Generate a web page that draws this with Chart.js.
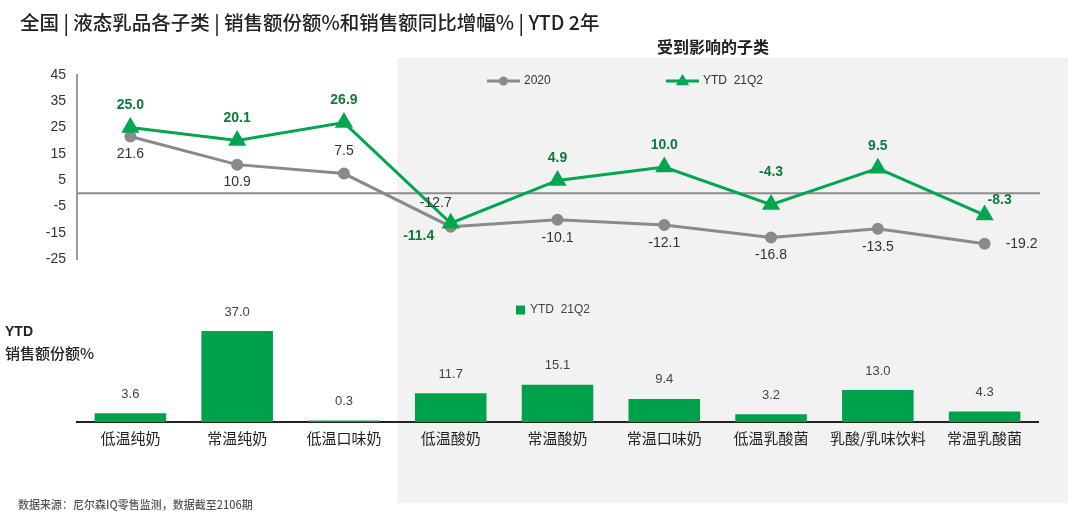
<!DOCTYPE html>
<html><head><meta charset="utf-8">
<script src="https://cdn.jsdelivr.net/npm/chart.js@4.4.1/dist/chart.umd.min.js"></script>
<style>
html,body{margin:0;padding:0;background:#fff;width:1080px;height:516px;overflow:hidden;}
#wrap{position:relative;width:1080px;height:516px;}
canvas{position:absolute;left:0;}
.t{position:absolute;white-space:nowrap;font-family:"Noto Sans CJK SC","Noto Sans",sans-serif;z-index:2;}
</style></head><body>
<div id="wrap">
<canvas id="c1" width="1080" height="290" style="top:0"></canvas>
<canvas id="c2" width="1080" height="226" style="top:290px"></canvas>
<div class="t" style="left:20px;top:12px;font-size:19.5px;line-height:20px;font-weight:500;color:#222">全国 | 液态乳品各子类 | 销售额份额%和销售额同比增幅% | YTD 2年</div>
<div class="t" style="left:657px;top:37px;font-size:16px;line-height:18px;font-weight:600;color:#222">受到影响的子类</div>
<div class="t" style="left:5px;top:323px;font-size:14px;line-height:16px;font-weight:700;color:#222;font-family:'Liberation Sans',Arial,sans-serif">YTD</div>
<div class="t" style="left:5px;top:344px;font-size:15px;line-height:17px;font-weight:500;color:#222">销售额份额%</div>
<div class="t" style="left:18px;top:498px;font-size:11px;line-height:13px;font-weight:500;color:#555">数据来源：尼尔森IQ零售监测，数据截至2106期</div>
</div>
<script>
const categories = ['低温纯奶','常温纯奶','低温口味奶','低温酸奶','常温酸奶','常温口味奶','低温乳酸菌','乳酸/乳味饮料','常温乳酸菌'];
const growth2020 = [21.6, 10.9, 7.5, -12.7, -10.1, -12.1, -16.8, -13.5, -19.2];
const growthYTD21Q2 = [25.0, 20.1, 26.9, -11.4, 4.9, 10.0, -4.3, 9.5, -8.3];
const shareYTD21Q2 = [3.6, 37.0, 0.3, 11.7, 15.1, 9.4, 3.2, 13.0, 4.3];
const yTicksMin = -25, yTicksMax = 45, yTickStep = 10;

const GREEN = '#00A650', GRAY = '#8A8A8A', BAR = '#00A14B';
const SANS = "'Liberation Sans', Arial, sans-serif";

const shade = {
  id: 'shade',
  beforeDraw(chart, args, o) {
    const x = chart.scales.x;
    const left = (x.getPixelForValue(o.from) + x.getPixelForValue(o.from + 1)) / 2;
    const right = chart.chartArea.right + o.extra;
    const ctx = chart.ctx;
    ctx.save();
    ctx.fillStyle = '#F2F2F2';
    ctx.fillRect(left, o.top, right - left, o.bottom - o.top);
    ctx.restore();
  }
};

const zeroLine = {
  id: 'zeroLine',
  beforeDatasetsDraw(chart) {
    const y = chart.scales.y, a = chart.chartArea, ctx = chart.ctx;
    const py = y.getPixelForValue(0);
    ctx.save();
    ctx.strokeStyle = '#8C8C8C';
    ctx.lineWidth = 2;
    ctx.beginPath();
    ctx.moveTo(a.left, py);
    ctx.lineTo(a.right + 2, py);
    ctx.stroke();
    ctx.restore();
  }
};

const valueLabels = {
  id: 'valueLabels',
  afterDatasetsDraw(chart, args, o) {
    const ctx = chart.ctx;
    ctx.save();
    ctx.textAlign = 'center';
    ctx.textBaseline = 'middle';
    chart.data.datasets.forEach((ds, i) => {
      const st = o.styles[i];
      const meta = chart.getDatasetMeta(i);
      ctx.font = st.font;
      ctx.fillStyle = st.color;
      meta.data.forEach((el, j) => {
        const off = (st.offsets && st.offsets[j]) || st.def;
        ctx.fillText(ds.data[j].toFixed(1), el.x + off[0], el.y + off[1]);
      });
    });
    ctx.restore();
  }
};

function drawMarker(ctx, style, x, y, r, color) {
  ctx.fillStyle = color;
  ctx.beginPath();
  if (style === 'triangle') {
    ctx.moveTo(x, y - r);
    ctx.lineTo(x + r * 0.95, y + r * 0.6);
    ctx.lineTo(x - r * 0.95, y + r * 0.6);
    ctx.closePath();
  } else {
    ctx.arc(x, y, r, 0, Math.PI * 2);
  }
  ctx.fill();
}

const customLegend = {
  id: 'customLegend',
  afterDraw(chart, args, o) {
    const ctx = chart.ctx;
    ctx.save();
    o.items.forEach(it => {
      const ds = chart.data.datasets[it.ds];
      ctx.textBaseline = 'middle';
      ctx.textAlign = 'left';
      if (it.type === 'line') {
        ctx.strokeStyle = ds.borderColor;
        ctx.lineWidth = 3;
        ctx.beginPath();
        ctx.moveTo(it.x, it.y);
        ctx.lineTo(it.x + 33, it.y);
        ctx.stroke();
        drawMarker(ctx, ds.pointStyle, it.x + 16.5, it.y, it.r, ds.pointBackgroundColor);
        ctx.fillStyle = '#333';
        ctx.font = "12px 'Liberation Sans Narrow', 'Liberation Sans', sans-serif";
        ctx.fillText(ds.label, it.x + 37, it.y);
      } else {
        ctx.fillStyle = ds.backgroundColor;
        ctx.fillRect(it.x, it.y - 4.5, 9, 9);
        ctx.fillStyle = '#444';
        ctx.font = "12px 'Liberation Sans Narrow', 'Liberation Sans', sans-serif";
        ctx.fillText(ds.label, it.x + 14, it.y);
      }
    });
    ctx.restore();
  }
};

new Chart(document.getElementById('c1'), {
  type: 'line',
  data: {
    labels: categories,
    datasets: [
      { label: '2020', data: growth2020, borderColor: GRAY, backgroundColor: GRAY, pointBackgroundColor: GRAY,
        pointBorderColor: GRAY, borderWidth: 3, pointStyle: 'circle', pointRadius: 4.5, order: 1 },
      { label: 'YTD  21Q2', data: growthYTD21Q2, borderColor: GREEN, backgroundColor: GREEN, pointBackgroundColor: GREEN,
        pointBorderColor: GREEN, borderWidth: 3, pointStyle: 'triangle', pointRadius: 7.5, order: 0 }
    ]
  },
  options: {
    responsive: false, animation: false, devicePixelRatio: 1,
    layout: { padding: { left: 0, right: 42, top: 75, bottom: 31 } },
    elements: { line: { tension: 0 } },
    scales: {
      x: { type: 'category', offset: true, display: false },
      y: {
        min: yTicksMin, max: yTicksMax,
        grid: { display: false, drawTicks: false },
        border: { display: true, color: '#9A9A9A', width: 2 },
        ticks: { stepSize: yTickStep, color: '#333', font: { family: SANS, size: 14 }, padding: 11 },
        afterFit(s) { s.width = 77; }
      }
    },
    plugins: {
      legend: { display: false }, tooltip: { enabled: false },
      shade: { from: 2, top: 58, bottom: 290, extra: 30 },
      customLegend: { items: [ { type: 'line', ds: 0, x: 487, y: 81, r: 4.5 }, { type: 'line', ds: 1, x: 666, y: 81, r: 7 } ] },
      valueLabels: {
        styles: [
          { font: "14px " + SANS, color: '#333', def: [0, 18],
            offsets: { 2: [0, -22], 3: [-15, -24], 8: [37, 0] } },
          { font: "bold 14px " + SANS, color: '#0F7A3A', def: [0, -22],
            offsets: { 3: [-32, 13], 6: [0, -32], 8: [15, -15] } }
        ]
      }
    }
  },
  plugins: [shade, zeroLine, valueLabels, customLegend]
});

new Chart(document.getElementById('c2'), {
  type: 'bar',
  data: {
    labels: categories,
    datasets: [
      { label: 'YTD  21Q2', data: shareYTD21Q2, backgroundColor: BAR, borderWidth: 0,
        barPercentage: 0.67, categoryPercentage: 1, minBarLength: 1.5 }
    ]
  },
  options: {
    responsive: false, animation: false, devicePixelRatio: 1,
    layout: { padding: { left: 77, right: 42, top: 9, bottom: 0 } },
    scales: {
      x: {
        grid: { display: false, drawTicks: false },
        border: { display: true, color: '#222', width: 2 },
        ticks: { color: '#222', font: { family: "'Noto Sans CJK SC', sans-serif", size: 15 }, padding: 7, maxRotation: 0, autoSkip: false },
        afterFit(s) { s.height = 94; }
      },
      y: { display: false, min: 0, max: 50 }
    },
    plugins: {
      legend: { display: false }, tooltip: { enabled: false },
      shade: { from: 2, top: 0, bottom: 213, extra: 30 },
      customLegend: { items: [ { type: 'bar', ds: 0, x: 516, y: 20 } ] },
      valueLabels: {
        styles: [ { font: "13px " + SANS, color: '#444', def: [0, -19] } ]
      }
    }
  },
  plugins: [shade, valueLabels, customLegend]
});
</script>
</body></html>
